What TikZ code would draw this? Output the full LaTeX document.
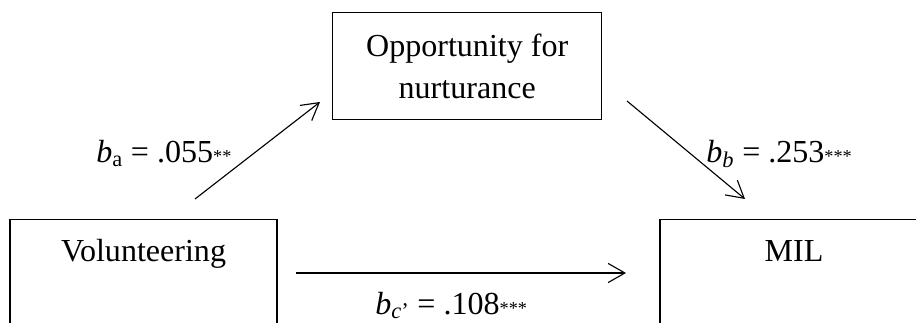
\documentclass[tikz,border=0pt]{standalone}
\usepackage{fontspec}
\setmainfont{Liberation Serif}
\usetikzlibrary{arrows.meta}
\newcommand{\sigstars}[1]{{\fontsize{13}{13}\selectfont #1}}
\tikzset{
  varbox/.style={draw,line width=0.8pt,inner sep=0pt},
  path arrow/.style={line width=0.8pt,-{Straight Barb[length=0.42cm,width=0.48cm]}},
  coef/.style={anchor=base west,inner sep=0pt}
}
\begin{document}
\begin{tikzpicture}[font=\fontsize{22.8}{29.9}\selectfont]
  \clip (0,0) rectangle (22.9,8.05);
  % boxes
  \node[varbox,minimum width=6.725cm,minimum height=2.675cm,align=center]
    (opp) at (11.68,6.39) {Opportunity for\\nurturance};
  \node[varbox,minimum width=6.675cm,minimum height=3cm,anchor=north]
    (vol) at (3.5875,2.575) {};
  \node[varbox,minimum width=6.7cm,minimum height=3cm,anchor=north]
    (mil) at (19.85,2.575) {};
  \node[anchor=base,inner sep=0pt] (vol-text) at ([yshift=-1.05cm]vol.north) {Volunteering};
  \node[anchor=base,inner sep=0pt] (mil-text) at ([yshift=-1.05cm]mil.north) {MIL};
  % arrow ends
  \coordinate (a-start) at (4.875,3.075);
  \coordinate (a-end) at (8.0,5.5);
  \coordinate (b-start) at (15.675,5.525);
  \coordinate (b-end) at (18.625,3.075);
  \coordinate (c-start) at (7.4,1.225);
  \coordinate (c-end) at (15.65,1.225);
  \draw[path arrow] (a-start) -- (a-end);
  \draw[path arrow] (b-start) -- (b-end);
  \draw[path arrow] (c-start) -- (c-end);
  % coefficients
  \node[coef] (a-coef) at (2.4,4.0) {\textit{b}\textsubscript{a} = .055\sigstars{**}};
  \node[coef] (b-coef) at (17.65,4.0) {\textit{b}\textsubscript{\textit{b}} = .253\sigstars{***}};
  \node[coef] (c-coef) at (9.375,0.2) {\textit{b}\textsubscript{\textit{c}’} = .108\sigstars{***}};
\end{tikzpicture}
\end{document}
